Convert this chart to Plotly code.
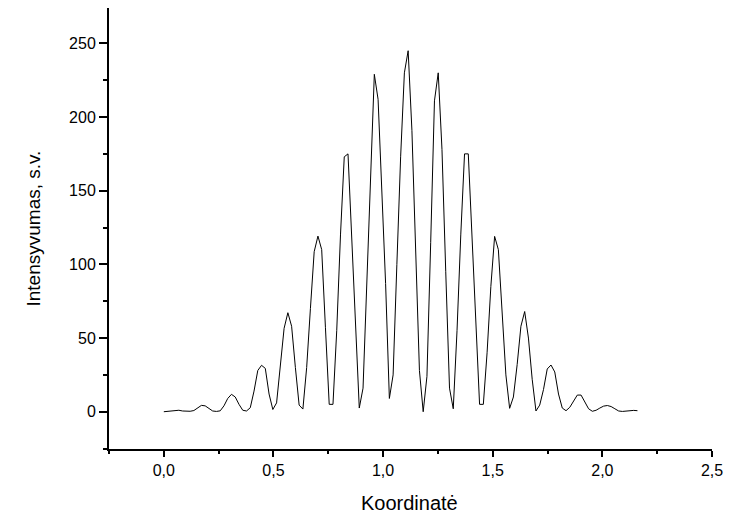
import plotly.graph_objects as go

# Sampling grid of the measured profile (Koordinatė)
X_START = 0.0
X_STEP = 2.16 / 126

# Intensity values (s.v.)
intensity = [
    0.0, 0.3, 0.9, 1.2, 1.0, 0.5, 0.3, 0.3, 0.8, 2.5,
    4.3, 4.0, 2.0, 0.5, 0.2, 0.6, 4.0, 9.0, 11.8, 10.0,
    5.0, 1.0, 0.5, 2.7, 14.0, 28.0, 31.5, 29.4, 12.0, 1.5,
    6.0, 30.0, 56.6, 67.2, 58.0, 30.0, 4.5, 1.8, 30.0, 70.0,
    108.6, 119.2, 110.0, 57.0, 5.0, 5.0, 55.0, 120.0, 173.0, 175.0,
    118.0, 60.0, 2.5, 16.0, 87.0, 160.0, 229.0, 212.0, 150.0, 87.0,
    9.0, 25.0, 100.0, 173.0, 230.0, 245.0, 191.0, 110.0, 28.0, 0.0,
    24.0, 115.0, 211.0, 230.0, 178.0, 95.0, 16.0, 2.0, 55.0, 120.0,
    175.0, 175.0, 120.0, 55.0, 5.0, 5.0, 40.0, 85.0, 119.0, 110.0,
    70.0, 25.0, 2.3, 10.0, 32.0, 58.0, 68.0, 50.0, 22.0, 0.5,
    4.5, 15.0, 29.0, 31.7, 27.0, 12.0, 2.5, 0.7, 3.0, 7.0,
    11.3, 11.3, 7.0, 2.0, 0.3, 1.0, 2.5, 3.8, 4.2, 3.5,
    2.0, 0.5, 0.2, 0.5, 0.8, 0.9, 0.7,
]
coord = [X_START + i * X_STEP for i in range(len(intensity))]

x_ticks = [0.0, 0.5, 1.0, 1.5, 2.0, 2.5]
y_ticks = [0, 50, 100, 150, 200, 250]

FONT = "Liberation Sans, Arial, sans-serif"

fig = go.Figure(
    go.Scatter(x=coord, y=intensity, mode="lines",
               line=dict(color="black", width=1), showlegend=False)
)

axis_common = dict(
    showline=True, linecolor="black", linewidth=2,
    showgrid=False, zeroline=False, mirror=False, automargin=False,
    ticks="outside", tickcolor="black", tickwidth=1.5,
    tickfont=dict(family=FONT, size=16, color="black"),
)

# the page body adds an 8 px offset, so the figure is made 8 px smaller
fig.update_layout(
    width=732, height=510,
    margin=dict(l=101, r=28, t=0, b=69),
    paper_bgcolor="white", plot_bgcolor="white",
    separators=",.",
    xaxis=dict(
        range=[-0.25, 2.5], tickvals=x_ticks, tickformat=".1f", ticklen=6,
        minor=dict(dtick=0.25, tick0=0, ticklen=3, ticks="outside", tickcolor="black", tickwidth=1.5),
        **axis_common,
    ),
    yaxis=dict(
        range=[-25.3, 274.0], tickvals=y_ticks, ticklen=8,
        minor=dict(dtick=25, tick0=0, ticklen=4, ticks="outside", tickcolor="black", tickwidth=1.5),
        **axis_common,
    ),
    annotations=[
        dict(text="Koordinatė", xref="paper", yref="paper", x=0.499, y=-0.122,
             xanchor="center", yanchor="middle", showarrow=False,
             font=dict(family=FONT, size=20, color="black")),
        dict(text="Intensyvumas, s.v.", xref="paper", yref="paper", x=-0.126, y=0.5,
             xanchor="center", yanchor="middle", textangle=-90, showarrow=False,
             font=dict(family=FONT, size=19, color="black")),
    ],
)

fig.write_html("out.html")
